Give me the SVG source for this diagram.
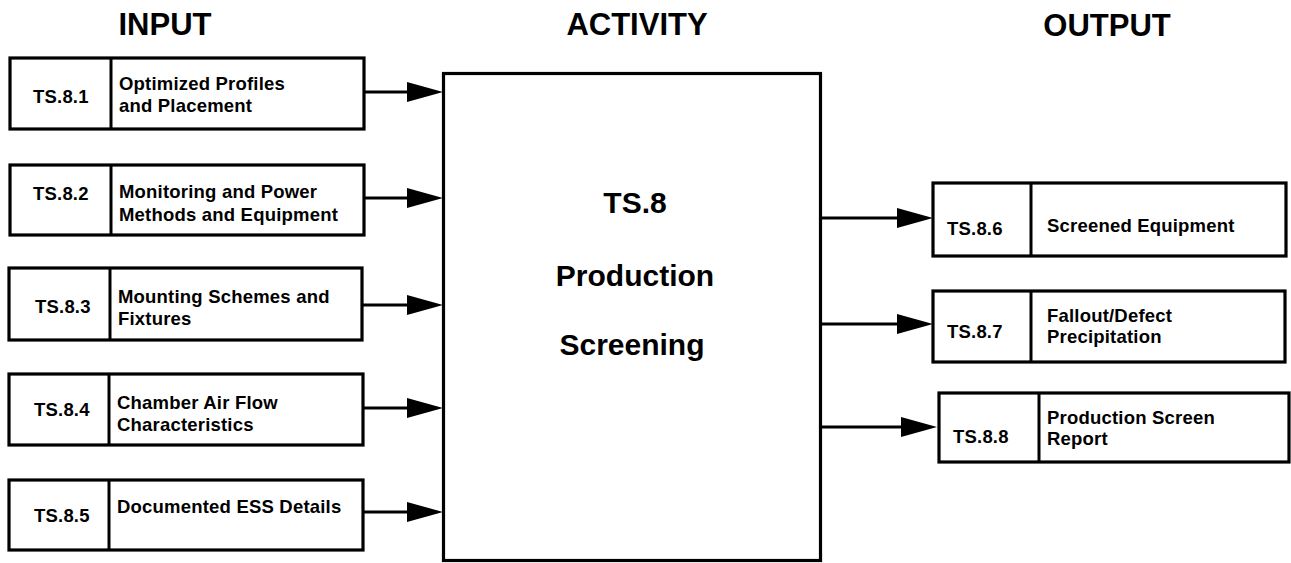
<svg xmlns="http://www.w3.org/2000/svg" width="1291" height="563" viewBox="0 0 1291 563">
<defs>
<style>
.box{fill:#fff;stroke:#000;stroke-width:3.2}
.div{stroke:#000;stroke-width:3}
.t{font-family:"Liberation Sans",Arial,sans-serif;font-weight:bold;fill:#000}
.s{font-size:18.5px;letter-spacing:0.2px}
.h{font-size:31px;text-anchor:middle}
.m{font-size:30px;text-anchor:middle}
.c{stroke:#000;stroke-width:3;fill:none}
</style>
<marker id="ah" markerUnits="userSpaceOnUse" markerWidth="36" markerHeight="22" refX="26" refY="11" orient="auto">
<path d="M0,1 L36,11 L0,21 Z" fill="#000"/>
</marker>
</defs>
<rect width="1291" height="563" fill="#fff"/>

<g id="titles">
<text class="t h" x="165" y="35">INPUT</text>
<text class="t h" x="637" y="35">ACTIVITY</text>
<text class="t h" x="1107" y="36">OUTPUT</text>
</g>

<g id="connectors">
<line class="c" x1="364" y1="92" x2="433" y2="92" marker-end="url(#ah)"/>
<line class="c" x1="364" y1="198" x2="433" y2="198" marker-end="url(#ah)"/>
<line class="c" x1="362" y1="305" x2="433" y2="305" marker-end="url(#ah)"/>
<line class="c" x1="363" y1="408" x2="433" y2="408" marker-end="url(#ah)"/>
<line class="c" x1="363" y1="512" x2="433" y2="512" marker-end="url(#ah)"/>
<line class="c" x1="821" y1="218" x2="923" y2="218" marker-end="url(#ah)"/>
<line class="c" x1="821" y1="324" x2="923" y2="324" marker-end="url(#ah)"/>
<line class="c" x1="821" y1="427" x2="927" y2="427" marker-end="url(#ah)"/>
</g>

<g id="n-ts8">
<rect class="box" x="443.5" y="73.5" width="377" height="487"/>
<text class="t m" x="635" y="213">TS.8</text>
<text class="t m" x="635" y="286">Production</text>
<text class="t m" x="632" y="355">Screening</text>
</g>

<g id="n-ts81">
<rect class="box" x="10" y="58" width="354" height="71"/>
<line class="div" x1="111" y1="58" x2="111" y2="129"/>
<text class="t s" x="33" y="103">TS.8.1</text>
<text class="t s" x="119" y="90">Optimized Profiles</text>
<text class="t s" x="119" y="112">and Placement</text>
</g>

<g id="n-ts82">
<rect class="box" x="10" y="165" width="354" height="70"/>
<line class="div" x1="111" y1="165" x2="111" y2="235"/>
<text class="t s" x="33" y="200">TS.8.2</text>
<text class="t s" x="119" y="198">Monitoring and Power</text>
<text class="t s" x="119" y="221">Methods and Equipment</text>
</g>

<g id="n-ts83">
<rect class="box" x="9" y="268" width="353" height="72"/>
<line class="div" x1="110" y1="268" x2="110" y2="340"/>
<text class="t s" x="35" y="313">TS.8.3</text>
<text class="t s" x="118" y="303">Mounting Schemes and</text>
<text class="t s" x="118" y="325">Fixtures</text>
</g>

<g id="n-ts84">
<rect class="box" x="9" y="374" width="354" height="71"/>
<line class="div" x1="109" y1="374" x2="109" y2="445"/>
<text class="t s" x="34" y="416">TS.8.4</text>
<text class="t s" x="117" y="409">Chamber Air Flow</text>
<text class="t s" x="117" y="431">Characteristics</text>
</g>

<g id="n-ts85">
<rect class="box" x="9" y="480" width="354" height="70"/>
<line class="div" x1="109" y1="480" x2="109" y2="550"/>
<text class="t s" x="34" y="522">TS.8.5</text>
<text class="t s" x="117" y="513">Documented ESS Details</text>
</g>

<g id="n-ts86">
<rect class="box" x="933" y="183" width="353" height="73"/>
<line class="div" x1="1031" y1="183" x2="1031" y2="256"/>
<text class="t s" x="947" y="235">TS.8.6</text>
<text class="t s" x="1047" y="232">Screened Equipment</text>
</g>

<g id="n-ts87">
<rect class="box" x="933" y="291" width="352" height="71"/>
<line class="div" x1="1031" y1="291" x2="1031" y2="362"/>
<text class="t s" x="947" y="338">TS.8.7</text>
<text class="t s" x="1047" y="322">Fallout/Defect</text>
<text class="t s" x="1047" y="343">Precipitation</text>
</g>

<g id="n-ts88">
<rect class="box" x="939" y="393" width="350" height="69"/>
<line class="div" x1="1039" y1="393" x2="1039" y2="462"/>
<text class="t s" x="953" y="443">TS.8.8</text>
<text class="t s" x="1047" y="424">Production Screen</text>
<text class="t s" x="1047" y="445">Report</text>
</g>
</svg>
